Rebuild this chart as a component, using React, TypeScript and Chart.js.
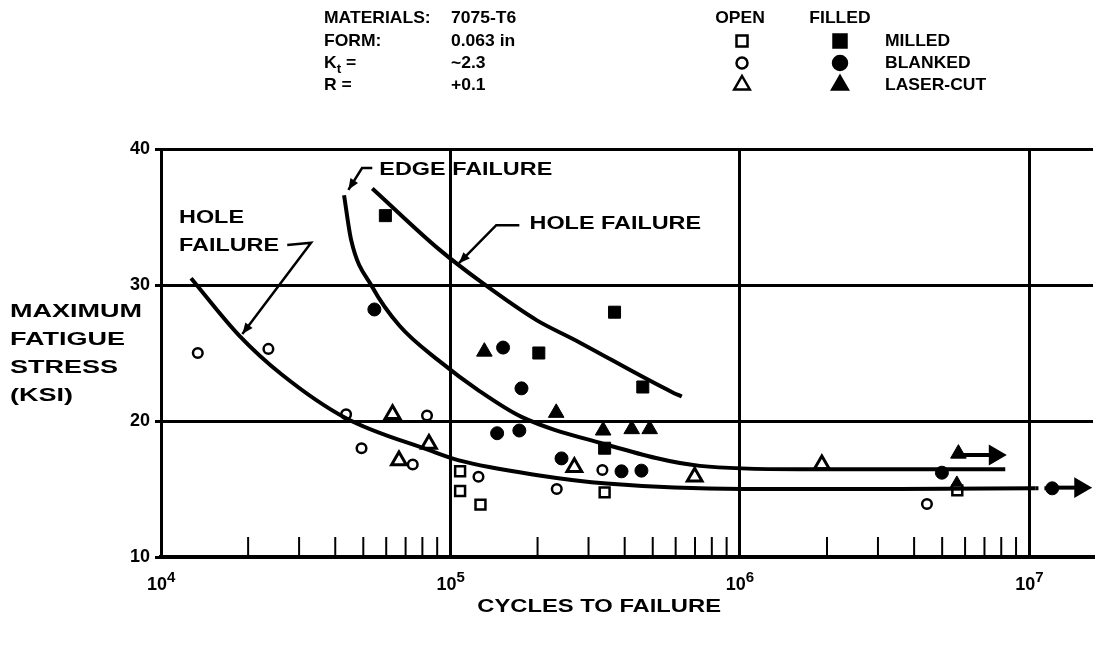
import React, { useEffect, useRef } from 'react';
import { Chart, registerables } from 'chart.js';

Chart.register(...registerables);

// ---------------- DATA (cycles N, max stress S in ksi) ----------------
const openSquareN = [108000, 108000, 127000, 341000, 5640000];
const openSquareS = [16.3, 14.85, 13.85, 14.75, 14.9];

const openCircleN = [13400, 23500, 43600, 83000, 49300, 74100, 125000, 233000, 335000, 4430000];
const openCircleS = [25.0, 25.3, 20.5, 20.4, 18.0, 16.8, 15.9, 15.0, 16.4, 13.9];

const openTriangleN = [63100, 84300, 66400, 268000, 698000, 1920000];
const openTriangleS = [20.5, 18.3, 17.1, 16.6, 15.9, 16.8];

const filledSquareN = [59600, 369000, 202000, 462000, 341000];
const filledSquareS = [35.1, 28.0, 25.0, 22.5, 18.0];

const filledCircleN = [54600, 152000, 176000, 145000, 173000, 242000, 390000, 457000, 4990000, 12000000];
const filledCircleS = [28.2, 25.4, 22.4, 19.1, 19.3, 17.25, 16.3, 16.35, 16.2, 15.05];

const filledTriangleN = [131000, 232000, 337000, 423000, 488000, 5690000, 5620000];
const filledTriangleS = [25.1, 20.6, 19.3, 19.4, 19.4, 17.6, 15.3];

// fitted curves
const holeLeftCurveN = [12700, 18600, 26200, 43600, 84500, 107000, 203000, 347000, 1020000, 3580000, 10500000];
const holeLeftCurveS = [30.5, 26.3, 23.4, 20.2, 17.85, 17.1, 16.0, 15.4, 15.0, 15.0, 15.05];

const edgeCurveN = [42900, 45400, 53700, 66700, 91600, 126000, 176000, 328000, 728000, 1610000, 4920000, 8260000];
const edgeCurveS = [36.6, 33.3, 29.85, 27.0, 24.4, 22.2, 20.3, 18.4, 16.7, 16.45, 16.45, 16.45];

const holeRightCurveN = [53700, 91600, 129000, 199000, 264000, 586000, 630000];
const holeRightCurveS = [37.1, 32.6, 30.15, 27.4, 26.05, 22.1, 21.8];

// run-out arrows
const runout1N = [5690000, 7600000];
const runout1S = [17.5, 17.5];
const runout2N = [12000000, 15000000];
const runout2S = [15.1, 15.1];
const runoutDotsN = [10500000, 12000000];
const runoutDotsS = [15.05, 15.05];

// axes / ticks
const yTicks = [10, 20, 30, 40];
const xTickExponents = [4, 5, 6, 7];
const minorDecades = [4, 5, 6];
const minorMultipliers = [2, 3, 4, 5, 6, 7, 8, 9];

// texts
const yTitleLines = ['MAXIMUM', 'FATIGUE', 'STRESS', '(KSI)'];
const xTitle = 'CYCLES TO FAILURE';
const headerLabels = ['MATERIALS:', 'FORM:', 'K', 'R ='];
const headerValues = ['7075-T6', '0.063 in', '~2.3', '+0.1'];
const legendHeads = ['OPEN', 'FILLED'];
const legendLabels = ['MILLED', 'BLANKED', 'LASER-CUT'];
const legendStyles = ['rect', 'circle', 'triangle'];

// annotation labels (anchored in data coordinates)
const annotationTexts = ['EDGE FAILURE', 'HOLE FAILURE', 'HOLE', 'FAILURE'];
const annotationN = [56800, 187600, 11540, 11540];
const annotationS = [38.45, 34.5, 34.9, 32.9];

// leader lines (data coordinates), arrowhead at final point
const leaderLeftN = [27300, 33000, 19100];
const leaderLeftS = [32.95, 33.1, 26.4];
const leaderEdgeN = [53700, 49500, 44400];
const leaderEdgeS = [38.6, 38.6, 37.0];
const leaderRightN = [173000, 144000, 107000];
const leaderRightS = [34.4, 34.4, 31.6];

// ---------------- helpers ----------------
const FONT = '"Liberation Sans", Arial, Helvetica, sans-serif';
const zip = (xs: number[], ys: number[]) => xs.map((x, i) => ({ x, y: ys[i] }));

function drawText(ctx: CanvasRenderingContext2D, text: string, x: number, y: number, size: number, sx: number, align: 'left' | 'center' | 'right' = 'left') {
  ctx.save();
  ctx.font = `bold ${size}px ${FONT}`;
  ctx.textBaseline = 'middle';
  ctx.textAlign = 'left';
  ctx.fillStyle = '#000';
  const w = ctx.measureText(text).width * sx;
  const x0 = align === 'left' ? x : align === 'center' ? x - w / 2 : x - w;
  ctx.translate(x0, y);
  ctx.scale(sx, 1);
  ctx.fillText(text, 0, 0);
  ctx.restore();
  return w;
}

function drawMarker(ctx: CanvasRenderingContext2D, style: string, x: number, y: number, filled: boolean) {
  ctx.save();
  ctx.lineWidth = 2.5;
  ctx.strokeStyle = '#000';
  ctx.fillStyle = filled ? '#000' : '#fff';
  ctx.beginPath();
  if (style === 'rect') {
    const h = filled ? 6.5 : 5.5;
    ctx.rect(x - h, y - h, 2 * h, 2 * h);
  } else if (style === 'circle') {
    ctx.arc(x, y, filled ? 7 : 5.5, 0, Math.PI * 2);
  } else {
    const r = 9;
    ctx.moveTo(x, y - r);
    ctx.lineTo(x + r * 0.866, y + r * 0.5);
    ctx.lineTo(x - r * 0.866, y + r * 0.5);
    ctx.closePath();
  }
  ctx.fill();
  ctx.stroke();
  ctx.restore();
}

function drawArrowHead(ctx: CanvasRenderingContext2D, x0: number, y0: number, x1: number, y1: number) {
  const a = Math.atan2(y1 - y0, x1 - x0);
  const L = 11, W = 4.5;
  ctx.beginPath();
  ctx.moveTo(x1, y1);
  ctx.lineTo(x1 - L * Math.cos(a) + W * Math.sin(a), y1 - L * Math.sin(a) - W * Math.cos(a));
  ctx.lineTo(x1 - L * Math.cos(a) - W * Math.sin(a), y1 - L * Math.sin(a) + W * Math.cos(a));
  ctx.closePath();
  ctx.fill();
}

const decorPlugin = {
  id: 'decor',
  afterDraw(chart: any) {
    const { ctx, chartArea: ca, scales } = chart;
    const xs = scales.x;
    const ys = scales.y;
    ctx.save();
    ctx.strokeStyle = '#000';
    ctx.fillStyle = '#000';

    // minor ticks pointing up inside the plot
    ctx.lineWidth = 2;
    for (const e of minorDecades) {
      for (const m of minorMultipliers) {
        const px = xs.getPixelForValue(m * Math.pow(10, e));
        ctx.beginPath();
        ctx.moveTo(px, ca.bottom);
        ctx.lineTo(px, ca.bottom - 20);
        ctx.stroke();
      }
    }

    // x tick labels 10^n
    for (const e of xTickExponents) {
      const px = xs.getPixelForValue(Math.pow(10, e));
      drawText(ctx, '10', px + 6, ca.bottom + 28, 18, 1, 'right');
      drawText(ctx, String(e), px + 6, ca.bottom + 21, 15, 1, 'left');
    }

    // axis titles
    drawText(ctx, xTitle, (xs.getPixelForValue(1e5) + xs.getPixelForValue(1e6)) / 2 + 4, ca.bottom + 50, 18, 1.32, 'center');
    yTitleLines.forEach((t, i) => drawText(ctx, t, 10, ys.getPixelForValue(28.0) + i * 28, 18, 1.5, 'left'));

    // header block
    const rowY = [18, 41, 63, 85];
    headerLabels.forEach((t, i) => {
      if (t === 'K') {
        const w = drawText(ctx, 'K', 324, rowY[i], 17, 1.03);
        const w2 = drawText(ctx, 't', 324 + w, rowY[i] + 6, 13, 1.03);
        drawText(ctx, '=', 324 + w + w2 + 5, rowY[i], 17, 1.03);
      } else {
        drawText(ctx, t, 324, rowY[i], 17, 1.03);
      }
    });
    headerValues.forEach((t, i) => drawText(ctx, t, 451, rowY[i], 17, 1.03));
    drawText(ctx, legendHeads[0], 740, rowY[0], 17, 1.03, 'center');
    drawText(ctx, legendHeads[1], 840, rowY[0], 17, 1.03, 'center');
    legendLabels.forEach((t, i) => {
      drawMarker(ctx, legendStyles[i], 742, rowY[i + 1], false);
      drawMarker(ctx, legendStyles[i], 840, rowY[i + 1], true);
      drawText(ctx, t, 885, rowY[i + 1], 17, 1.03);
    });

    // annotations
    annotationTexts.forEach((t, i) => {
      drawText(ctx, t, xs.getPixelForValue(annotationN[i]), ys.getPixelForValue(annotationS[i]), 18, 1.3, 'left');
    });

    // leader lines with arrowheads
    ctx.lineWidth = 2.5;
    const leaders = [
      [leaderLeftN, leaderLeftS],
      [leaderEdgeN, leaderEdgeS],
      [leaderRightN, leaderRightS],
    ];
    for (const [ln, ls] of leaders) {
      const pts = ln.map((n, i) => [xs.getPixelForValue(n), ys.getPixelForValue(ls[i])]);
      ctx.beginPath();
      pts.forEach((p, i) => (i === 0 ? ctx.moveTo(p[0], p[1]) : ctx.lineTo(p[0], p[1])));
      ctx.stroke();
      const a = pts[pts.length - 2];
      const b = pts[pts.length - 1];
      drawArrowHead(ctx, a[0], a[1], b[0], b[1]);
    }
    ctx.restore();
  },
};

const isDecade = (v: number) => {
  const l = Math.log10(v);
  return Math.abs(l - Math.round(l)) < 1e-6;
};

export default function App() {
  const ref = useRef<HTMLCanvasElement>(null);

  useEffect(() => {
    if (!ref.current) return;
    Chart.defaults.color = '#000';
    const open = { backgroundColor: '#fff', borderColor: '#000', borderWidth: 2.5 };
    const filled = { backgroundColor: '#000', borderColor: '#000', borderWidth: 1 };
    const curve = {
      showLine: true,
      borderColor: '#000',
      borderWidth: 4,
      pointRadius: 0,
      cubicInterpolationMode: 'monotone' as const,
      fill: false,
    };
    const chart = new Chart(ref.current, {
      type: 'scatter',
      data: {
        datasets: [
          { label: 'Hole failure (lower)', data: zip(holeLeftCurveN, holeLeftCurveS), ...curve },
          { label: 'Edge failure', data: zip(edgeCurveN, edgeCurveS), ...curve },
          { label: 'Hole failure (upper)', data: zip(holeRightCurveN, holeRightCurveS), ...curve },
          { label: 'Run-out dots', data: zip(runoutDotsN, runoutDotsS), ...curve, borderDash: [3, 6] },
          { label: 'Open milled', data: zip(openSquareN, openSquareS), pointStyle: 'rect', pointRadius: 7, ...open },
          { label: 'Open blanked', data: zip(openCircleN, openCircleS), pointStyle: 'circle', pointRadius: 4.8, ...open },
          { label: 'Open laser-cut', data: zip(openTriangleN, openTriangleS), pointStyle: 'triangle', pointRadius: 8.5, ...open, borderWidth: 3 },
          { label: 'Filled milled', data: zip(filledSquareN, filledSquareS), pointStyle: 'rect', pointRadius: 8.5, ...filled },
          { label: 'Filled blanked', data: zip(filledCircleN, filledCircleS), pointStyle: 'circle', pointRadius: 6.5, ...filled },
          { label: 'Filled laser-cut', data: zip(filledTriangleN, filledTriangleS), pointStyle: 'triangle', pointRadius: 9, ...filled },
          {
            label: 'Run-out 1', data: zip(runout1N, runout1S), showLine: true, borderColor: '#000', borderWidth: 4,
            backgroundColor: '#000', pointStyle: 'triangle', rotation: 90, pointRadius: [0, 8],
          },
          {
            label: 'Run-out 2', data: zip(runout2N, runout2S), showLine: true, borderColor: '#000', borderWidth: 4,
            backgroundColor: '#000', pointStyle: 'triangle', rotation: 90, pointRadius: [0, 8],
          },
        ],
      },
      options: {
        animation: false,
        responsive: false,
        maintainAspectRatio: false,
        layout: { padding: { top: 149, right: 0, bottom: 0, left: 0 } },
        plugins: { legend: { display: false }, tooltip: { enabled: false }, title: { display: false } },
        scales: {
          x: {
            type: 'logarithmic',
            min: 1e4,
            max: 1.66e7,
            position: 'bottom',
            grid: {
              color: (c: any) => (c.tick && isDecade(c.tick.value) ? '#000' : 'rgba(0,0,0,0)'),
              lineWidth: 3,
              drawTicks: false,
            },
            border: { display: true, color: '#000', width: 4 },
            ticks: { display: false, autoSkip: false },
            afterFit: (s: any) => {
              s.height = 90;
            },
          },
          y: {
            type: 'linear',
            min: 10,
            max: 40,
            afterBuildTicks: (s: any) => {
              s.ticks = yTicks.map((v) => ({ value: v }));
            },
            ticks: {
              stepSize: 10,
              color: '#000',
              padding: 5,
              font: { family: FONT, size: 18, weight: 'bold' },
            },
            grid: { color: '#000', lineWidth: 3, drawTicks: true, tickLength: 6 },
            border: { display: true, color: '#000', width: 3 },
            afterFit: (s: any) => {
              s.width = 161;
            },
          },
        },
      },
      plugins: [decorPlugin],
    } as any);
    return () => chart.destroy();
  }, []);

  return (
    <div style={{ position: 'fixed', left: 0, top: 0, width: 1105, height: 647, background: '#fff' }}>
      <canvas ref={ref} width={1105} height={647} style={{ width: 1105, height: 647, display: 'block' }} />
    </div>
  );
}
